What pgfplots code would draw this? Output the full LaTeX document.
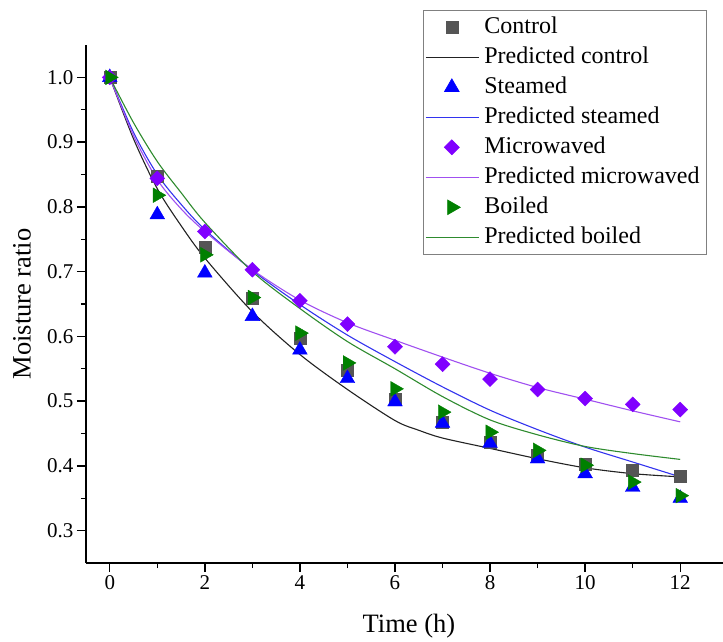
\documentclass[border=0pt]{standalone}
\usepackage{fontspec}
\setmainfont{Liberation Serif}
\usepackage{pgfplots}
\pgfplotsset{compat=1.18}

\definecolor{ctrlmark}{HTML}{555555}
\definecolor{ctrlline}{HTML}{222222}
\definecolor{stmark}{HTML}{0000FF}
\definecolor{stline}{HTML}{3333EE}
\definecolor{mwmark}{HTML}{8000FF}
\definecolor{mwline}{HTML}{A050F0}
\definecolor{bomark}{HTML}{008000}
\definecolor{boline}{HTML}{2E8B2E}

\pgfplotsset{
  lineleg/.style={legend image code/.code={%
    \pgfsetlinewidth{1.1pt}\pgfsetstrokecolor{#1}%
    \pgfpathmoveto{\pgfpoint{0pt}{0pt}}\pgfpathlineto{\pgfpoint{53pt}{0pt}}%
    \pgfusepath{stroke}}},
}

\begin{document}
\begin{tikzpicture}
\begin{axis}[
  scale only axis,
  width=637pt, height=518pt,
  xmin=-0.5, xmax=12.9,
  ymin=0.25, ymax=1.05,
  axis x line*=bottom, axis y line*=left,
  axis line style={line width=1.6pt, -},
  xtick={0,2,4,6,8,10,12},
  ytick={0.3,0.4,0.5,0.6,0.7,0.8,0.9,1.0},
  minor x tick num=1, minor y tick num=1,
  xtick align=outside, ytick align=outside,
  major tick length=9pt, minor tick length=5pt,
  every tick/.style={line width=1.4pt, black},
  ticklabel style={font=\fontsize{21}{21}\selectfont},
  yticklabel style={/pgf/number format/.cd, fixed, fixed zerofill, precision=1},
  /pgf/number format/assume math mode=true,
  xlabel={Time (h)}, ylabel={Moisture ratio},
  label style={font=\fontsize{26.5}{26.5}\selectfont},
  xlabel style={at={(axis description cs:0.507,-0.135)}, anchor=base},
  ylabel style={at={(axis description cs:-0.1005,0.5)}, anchor=center},
  legend style={at={(0.529,1.0676)}, anchor=north west,
    draw=gray, line width=0.6pt,
    font=\fontsize{24}{24}\selectfont,
    inner xsep=2pt, inner ysep=2pt, row sep=0pt,
    nodes={inner ysep=3pt, inner xsep=5pt, text height=18pt, text depth=6pt}},
  legend cell align=left,
  legend image code/.code={\draw[mark repeat=2,mark phase=2,#1] plot coordinates {(0pt,0pt) (26pt,0pt) (53pt,0pt)};},
]
% measured data
\addplot[only marks, mark=square*, mark size=6pt, color=ctrlmark] coordinates {
  (0,1.000) (1,0.847) (2,0.737) (3,0.659) (4,0.597) (5,0.548) (6,0.503)
  (7,0.468) (8,0.437) (9,0.416) (10,0.402) (11,0.393) (12,0.384)
};
\addlegendentry{Control}
\addplot[smooth, line width=1.1pt, color=ctrlline, lineleg=ctrlline] coordinates {
  (0,1.000) (0.5,0.905) (1,0.828) (1.5,0.771) (2,0.721) (3,0.638) (4,0.572)
  (5,0.518) (6,0.470) (6.5,0.455) (7,0.443) (8,0.427) (9,0.411) (10,0.397) (11,0.388) (12,0.383)
};
\addlegendentry{Predicted control}

\addplot[only marks, mark=triangle*, mark size=8.5pt, color=stmark] coordinates {
  (0,1.000) (1,0.788) (2,0.698) (3,0.631) (4,0.579) (5,0.535) (6,0.499)
  (7,0.466) (8,0.435) (9,0.411) (10,0.388) (11,0.367) (12,0.350)
};
\addlegendentry{Steamed}
\addplot[smooth, line width=1.1pt, color=stline, lineleg=stline] coordinates {
  (0,1.000) (0.5,0.915) (1,0.850) (1.5,0.804) (2,0.765) (3,0.702) (4,0.649)
  (5,0.602) (6,0.561) (7,0.522) (8,0.486) (9,0.456) (10,0.429) (11,0.406) (12,0.383)
};
\addlegendentry{Predicted steamed}

\addplot[only marks, mark=square*, mark size=5.3pt, mark options={rotate=45}, color=mwmark] coordinates {
  (0,1.000) (1,0.844) (2,0.762) (3,0.703) (4,0.655) (5,0.619) (6,0.584)
  (7,0.557) (8,0.534) (9,0.518) (10,0.504) (11,0.495) (12,0.487)
};
\addlegendentry{Microwaved}
\addplot[smooth, line width=1.1pt, color=mwline, lineleg=mwline] coordinates {
  (0,1.000) (0.5,0.910) (1,0.842) (1.5,0.797) (2,0.762) (3,0.703) (4,0.656)
  (5,0.621) (6,0.594) (7,0.568) (8,0.543) (9,0.521) (10,0.503) (11,0.485) (12,0.468)
};
\addlegendentry{Predicted microwaved}

\addplot[only marks, mark=triangle*, mark size=8.5pt, mark options={rotate=-90}, color=bomark] coordinates {
  (0,1.000) (1,0.818) (2,0.726) (3,0.660) (4,0.605) (5,0.559) (6,0.519)
  (7,0.483) (8,0.452) (9,0.424) (10,0.401) (11,0.375) (12,0.354)
};
\addlegendentry{Boiled}
\addplot[smooth, line width=1.1pt, color=boline, lineleg=boline] coordinates {
  (0,1.000) (0.5,0.930) (1,0.870) (1.5,0.822) (2,0.776) (3,0.700) (4,0.643)
  (5,0.592) (6,0.550) (7,0.507) (8,0.471) (9,0.448) (10,0.430) (11,0.419) (12,0.410)
};
\addlegendentry{Predicted boiled}
\end{axis}
\pgfresetboundingbox
\path (-86pt,-78pt) rectangle (637pt,563pt);
\end{tikzpicture}
\end{document}
